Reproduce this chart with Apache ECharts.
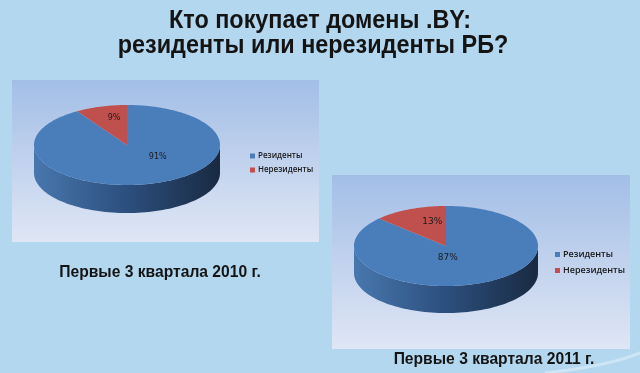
<!DOCTYPE html>
<html><head><meta charset="utf-8">
<script src="https://cdn.jsdelivr.net/npm/echarts@6/dist/echarts.min.js"></script>
<style>html,body{margin:0;padding:0;background:#b4d7f0}#c{width:640px;height:373px}</style>
</head><body><div id="c"></div>
<script>
// ---- data ----
const categories = ['Резиденты', 'Нерезиденты'];
const values2010 = [91, 9];
const values2011 = [87, 13];
const subtitles = ['Первые 3 квартала 2010 г.', 'Первые 3 квартала 2011 г.'];
const titleLines = ['Кто покупает домены .BY:', 'резиденты или нерезиденты РБ?'];

// ---- layout / style ----
const charts = [
  { values: values2010, cx: 127, cy: 145, rx: 93, ry: 40, depth: 28, labelSize: 8,
    labelPos: [[0.33, 0.3], [-0.14, -0.68]] },
  { values: values2011, cx: 446, cy: 246, rx: 92, ry: 40, depth: 27, labelSize: 9,
    labelPos: [[0.02, 0.3], [-0.15, -0.6]] }
];
const topColors = ['#4a7ebb', '#c0504d'];
const sideColors = [['#4877ae', '#2c4f7d', '#192a42'], ['#b04a47', '#8c3a38', '#5a2422']];
const FONT = '"Liberation Sans", Arial, sans-serif';

function buildSeries(ci, k) {
  const c = charts[ci];
  return {
    type: 'custom',
    name: categories[k],
    coordinateSystem: 'none',
    itemStyle: { color: topColors[k] },
    data: [[c.values[k]]],
    renderItem: function (params, api) {
      const vals = c.values;
      const total = vals.reduce((a, b) => a + b, 0);
      let start = 0;
      for (let i = 0; i < k; i++) start += vals[i];
      const v = api.value(0);
      const a0 = start / total * Math.PI * 2;
      const a1 = (start + v) / total * Math.PI * 2;
      const pt = (t, dy) => [c.cx + c.rx * Math.sin(t), c.cy - c.ry * Math.cos(t) + (dy || 0)];
      const children = [];
      const s = Math.max(a0, Math.PI / 2), e = Math.min(a1, Math.PI * 3 / 2);
      if (e > s) {
        const pts = [];
        const n = 80;
        for (let i = 0; i <= n; i++) pts.push(pt(s + (e - s) * i / n, 0));
        for (let i = n; i >= 0; i--) pts.push(pt(s + (e - s) * i / n, c.depth));
        children.push({
          type: 'polygon', z2: 1,
          shape: { points: pts },
          style: {
            fill: new echarts.graphic.LinearGradient(c.cx - c.rx, 0, c.cx + c.rx, 0, [
              { offset: 0, color: sideColors[k][0] },
              { offset: 0.5, color: sideColors[k][1] },
              { offset: 1, color: sideColors[k][2] }
            ], true)
          }
        });
      }
      const tp = [[c.cx, c.cy]];
      const m = Math.max(4, Math.round((a1 - a0) * 40));
      for (let i = 0; i <= m; i++) tp.push(pt(a0 + (a1 - a0) * i / m, 0));
      children.push({
        type: 'polygon', z2: 2,
        shape: { points: tp },
        style: { fill: topColors[k] }
      });
      const lp = c.labelPos[k];
      children.push({
        type: 'text', z2: 3,
        x: c.cx + lp[0] * c.rx, y: c.cy + lp[1] * c.ry,
        style: {
          text: Math.round(v / total * 100) + '%',
          align: 'center', verticalAlign: 'middle',
          fill: '#1a1a1a', font: c.labelSize + 'px "DejaVu Sans", sans-serif'
        }
      });
      return { type: 'group', children: children };
    }
  };
}

const series = [];
for (let ci = 0; ci < charts.length; ci++)
  for (let k = 0; k < categories.length; k++) series.push(buildSeries(ci, k));

const panelGrad = () => new echarts.graphic.LinearGradient(0, 0, 0, 1, [
  { offset: 0, color: '#a3bee6' }, { offset: 1, color: '#dfe6f5' }
]);
const narrowText = (text, x, y, size, sx) => ({
  type: 'text', x: x, y: y, scaleX: sx, scaleY: 1,
  style: { text: text, align: 'center', verticalAlign: 'middle',
    font: 'bold ' + size + 'px ' + FONT, fill: '#141414' }
});

const chart = echarts.init(document.getElementById('c'), null, { renderer: 'canvas' });
chart.setOption({
  backgroundColor: '#b4d7f0',
  animation: false,
  legend: [
    { data: categories, orient: 'vertical', left: 245, top: 147, icon: 'rect', itemWidth: 5, itemHeight: 5, itemGap: 6,
      selectedMode: false, textStyle: { fontSize: 8, fontWeight: 600, fontFamily: '"Open Sans", sans-serif', color: '#1a1a1a', padding: [0, 0, 0, -2] } },
    { data: categories, orient: 'vertical', left: 550, top: 245, icon: 'rect', itemWidth: 5, itemHeight: 5, itemGap: 7,
      selectedMode: false, textStyle: { fontSize: 9, fontWeight: 600, fontFamily: '"Open Sans", sans-serif', color: '#1a1a1a', padding: [0, 0, 0, -2] } }
  ],
  graphic: [
    { type: 'rect', z: -10, shape: { x: 12, y: 80, width: 307, height: 162 }, style: { fill: panelGrad() } },
    { type: 'rect', z: -10, shape: { x: 332, y: 175, width: 298, height: 174 }, style: { fill: panelGrad() } },
    { type: 'bezierCurve', z: -9, shape: { x1: 545, y1: 373, cpx1: 590, cpy1: 368, cpx2: 620, cpy2: 362, x2: 642, y2: 352 },
      style: { stroke: 'rgba(255,255,255,0.35)', lineWidth: 3, fill: null } },
    narrowText(titleLines[0], 320, 21, 26, 0.9),
    narrowText(titleLines[1], 313, 46, 26, 0.9),
    narrowText(subtitles[0], 160, 272, 17, 0.92),
    narrowText(subtitles[1], 494, 359, 17, 0.92)
  ],
  series: series
});
</script>
</body></html>
